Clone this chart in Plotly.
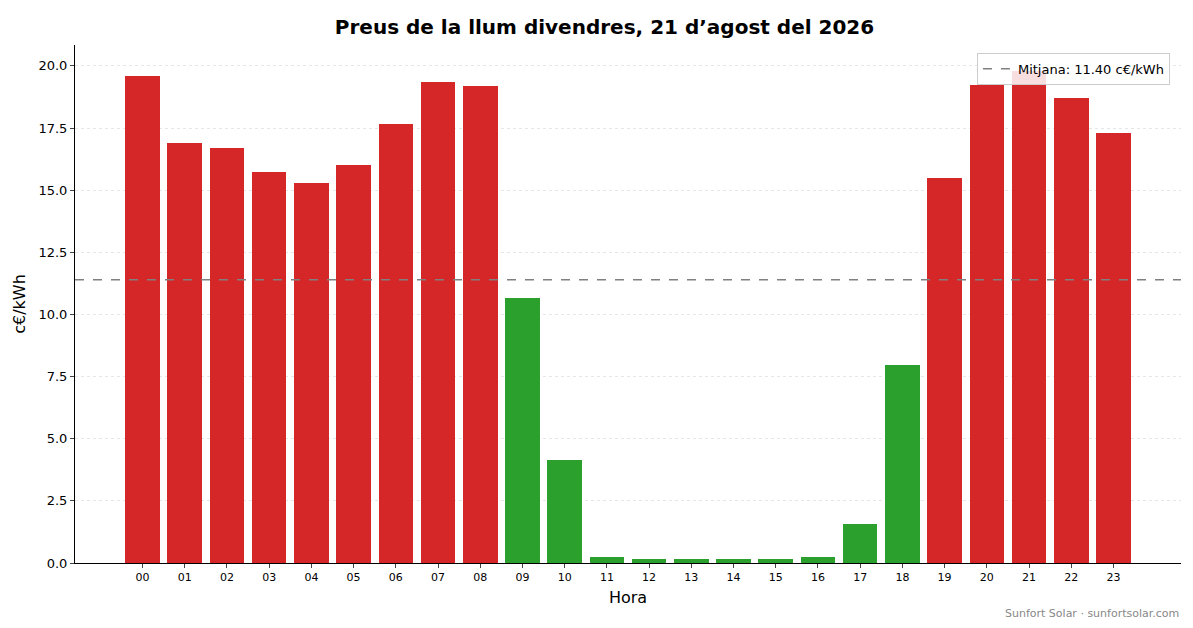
import plotly.graph_objects as go

hours = [f"{h:02d}" for h in range(24)]
prices = [19.60, 16.90, 16.70, 15.73, 15.29, 16.02, 17.67, 19.36, 19.20, 10.66,
          4.14, 0.24, 0.16, 0.16, 0.16, 0.16, 0.24, 1.57, 7.97, 15.49,
          19.24, 19.80, 18.71, 17.30]
mean_price = 11.40
y_ticks = [0, 2.5, 5, 7.5, 10, 12.5, 15, 17.5, 20]

colors = ['#d62728' if p > mean_price else '#2ca02c' for p in prices]
xs = list(range(len(hours)))

fig = go.Figure()
fig.add_trace(go.Bar(x=xs, y=prices, marker_color=colors, marker_line_width=0,
                     width=0.82, showlegend=False))
fig.add_trace(go.Scatter(x=[-1.6, 24.6], y=[mean_price, mean_price], mode='lines',
                         line=dict(color='#808080', dash='dash', width=1.5),
                         name=f'Mitjana: {mean_price:.2f} c€/kWh'))

fig.update_layout(
    width=1193, height=628, plot_bgcolor='white', paper_bgcolor='white',
    margin=dict(l=67, r=20, t=37, b=73),
    font=dict(family='DejaVu Sans', color='black', size=13),
    title=dict(text='<b>Preus de la llum divendres, 21 d’agost del 2026</b>',
               x=0.5, xanchor='center', y=0.97, yanchor='middle', font=dict(size=20)),
    bargap=0,
    legend=dict(x=0.99, y=0.985, xanchor='right', yanchor='top',
                bordercolor='#cccccc', borderwidth=1, bgcolor='rgba(255,255,255,0.85)',
                font=dict(size=13)),
)
fig.update_xaxes(range=[-1.6, 24.6], tickvals=xs, ticktext=hours, tickfont=dict(size=11),
                 showline=True, linecolor='black', ticks='outside', ticklen=4,
                 showgrid=False, title=dict(text='Hora', font=dict(size=16), standoff=8))
fig.update_yaxes(range=[0, 20.84], tickvals=y_ticks, ticktext=[f'{v:.1f}' for v in y_ticks],
                 showline=True, linecolor='black', ticks='outside', ticklen=4,
                 gridcolor='#e6e6e6', griddash='dot', zeroline=False,
                 title=dict(text='c€/kWh', font=dict(size=16), standoff=8))
fig.add_annotation(text='Sunfort Solar · sunfortsolar.com', xref='paper', yref='paper',
                   x=1.0, y=-0.097, xanchor='right', yanchor='middle', showarrow=False,
                   font=dict(size=11, color='#888888'))
fig.write_html("out.html")
